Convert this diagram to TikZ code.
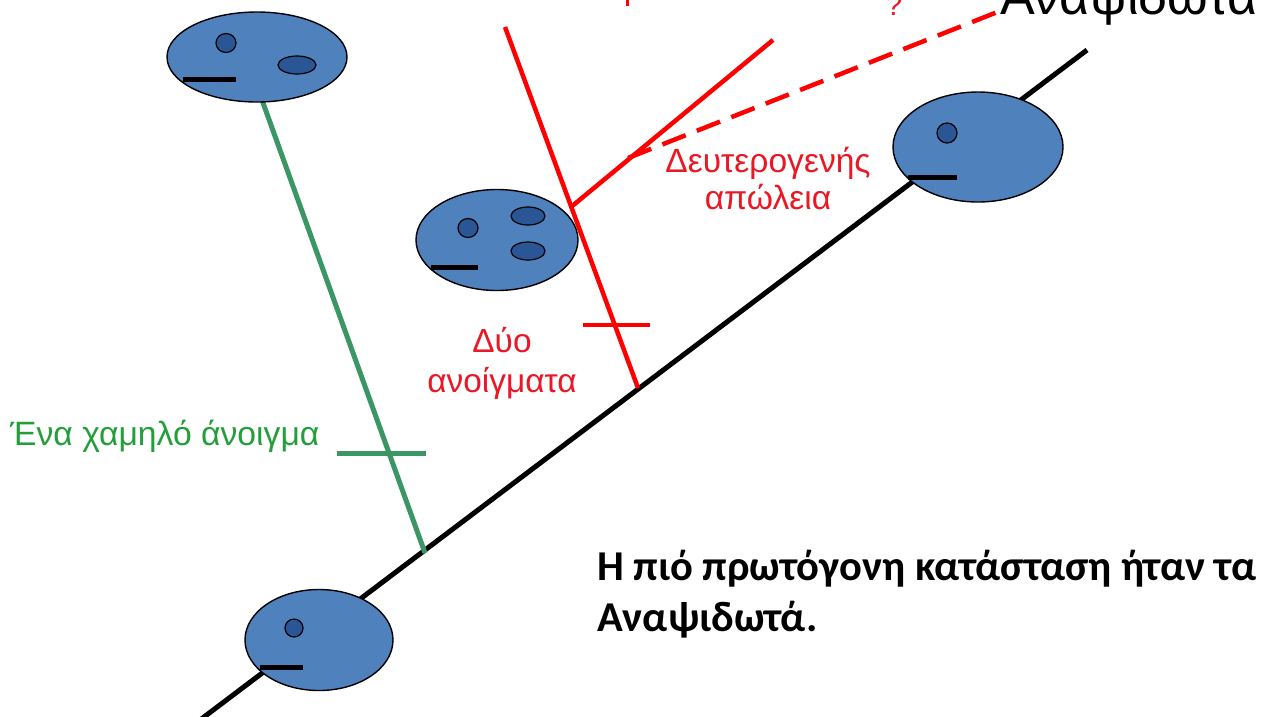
\documentclass[tikz,border=0pt]{standalone}
\usepackage{fontspec}
\setmainfont{Liberation Sans}
\newfontfamily\boldsans{Carlito}
\usetikzlibrary{shapes.geometric}
\definecolor{cellblue}{RGB}{79,129,189}
\definecolor{nucleus}{RGB}{42,86,150}
\definecolor{linegreen}{RGB}{58,150,100}
\definecolor{textgreen}{RGB}{36,158,58}
\definecolor{linered}{RGB}{255,0,0}
\definecolor{textred}{RGB}{232,24,36}
\begin{document}
\begin{tikzpicture}[x=1pt,y=-1pt,
  cell/.style={ellipse, draw=black, line width=1.4pt, fill=cellblue, inner sep=0pt},
  organelle/.style={ellipse, draw=black, line width=1.2pt, fill=nucleus, inner sep=0pt},
  bar/.style={line width=5pt, black},
  trunk/.style={line width=5pt, black},
  greenline/.style={line width=5pt, linegreen},
  redline/.style={line width=4.5pt, linered},
  lbl/.style={inner sep=0pt, align=center}]
\useasboundingbox (0,0) rectangle (1266,716);

% tree coordinates
\coordinate (rootA) at (200,720);
\coordinate (rootB) at (1087,50);
\coordinate (gTop) at (262,100);
\coordinate (gBase) at (425,553);
\coordinate (gBarL) at (337,453);
\coordinate (gBarR) at (426,453);
\coordinate (rTop) at (505,27);
\coordinate (rBase) at (638,388);
\coordinate (rBarL) at (583,325);
\coordinate (rBarR) at (650,325);
\coordinate (bStart) at (571,207);
\coordinate (bEnd) at (773,40);
\coordinate (dStart) at (628,158);
\coordinate (dEnd) at (1000,11);
\coordinate (tickA) at (627,-2);
\coordinate (tickB) at (627,6);

% branches
\draw[trunk] (rootA) -- (rootB);
\draw[greenline] (gTop) -- (gBase);
\draw[greenline] (gBarL) -- (gBarR);
\draw[redline] (rTop) -- (rBase);
\draw[redline] (rBarL) -- (rBarR);
\draw[redline] (bStart) -- (bEnd);
\draw[redline, dash pattern=on 25pt off 12pt] (dStart) -- (dEnd);
\draw[linered, line width=3pt] (tickA) -- (tickB);

% cells
\node[cell, minimum width=180pt, minimum height=90pt] (c1) at (257,57) {};
\node[organelle, minimum width=20pt, minimum height=19pt] (c1n) at (226,43) {};
\node[organelle, minimum width=38pt, minimum height=18pt] (c1o) at (297,65) {};
\draw[bar] (183,79) -- (236,79);

\node[cell, minimum width=162pt, minimum height=101pt] (c2) at (497,240) {};
\node[organelle, minimum width=20pt, minimum height=19pt] (c2n) at (468,228) {};
\node[organelle, minimum width=34pt, minimum height=18pt] (c2a) at (528,216) {};
\node[organelle, minimum width=34pt, minimum height=18pt] (c2b) at (528,251) {};
\draw[bar] (431,267) -- (478,267);

\node[cell, minimum width=170pt, minimum height=110pt] (c3) at (978,147) {};
\node[organelle, minimum width=20pt, minimum height=20pt] (c3n) at (947,133) {};
\draw[bar] (908,177) -- (957,177);

\node[cell, minimum width=148pt, minimum height=101pt] (c4) at (319,640) {};
\node[organelle, minimum width=18pt, minimum height=18pt] (c4n) at (294,628) {};
\draw[bar] (260,667) -- (303,667);

% labels
\node[lbl, text=textred, font=\fontsize{33.6}{37}\selectfont] (lsec) at (768,178)
  {Δευτερογενής\\απώλεια};
\node[lbl, text=textred, font=\fontsize{33.4}{40}\selectfont] (ltwo) at (502,363)
  {Δύο\\ανοίγματα};
\node[lbl, anchor=west, text=textgreen, font=\fontsize{33.7}{37}\selectfont] (lone) at (10,436)
  {Ένα χαμηλό άνοιγμα};
\node[lbl, anchor=base west, font=\fontsize{52}{60}\selectfont] (ltop) at (1000,14)
  {Αναψιδωτά};
\node[lbl, anchor=base, text=textred, font=\fontsize{30}{36}\selectfont] (lq) at (894,15) {?};
\node[lbl, anchor=base west, align=left, font=\boldsans\bfseries\fontsize{42.5}{51}\selectfont] (lnote) at (597,631)
  {Η πιό πρωτόγονη κατάσταση ήταν τα\\Αναψιδωτά.};
\end{tikzpicture}
\end{document}
